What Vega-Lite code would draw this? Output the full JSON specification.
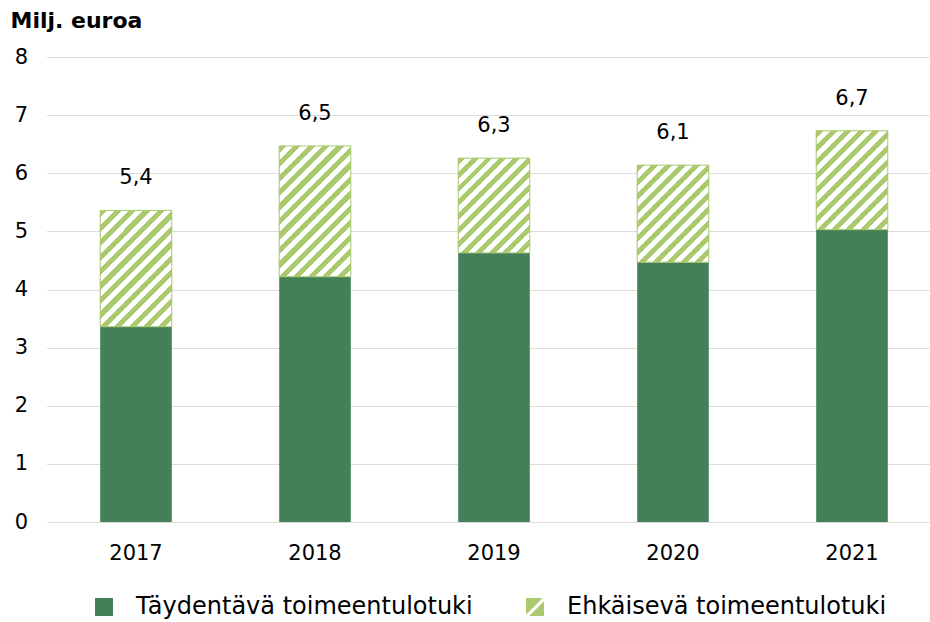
{
  "$schema": "https://vega.github.io/schema/vega-lite/v6.json",
  "width": 895,
  "height": 465,
  "autosize": {"type": "none"},
  "padding": {"left": 46.5, "top": 57, "right": 0, "bottom": 100},
  "background": "white",
  "config": {
    "locale": {"number": {"decimal": ",", "thousands": " ", "grouping": [3], "currency": ["", " €"]}},
    "view": {"stroke": null},
    "font": "DejaVu Sans"
  },
  "data": {
    "values": [
      {"year": "2017", "type": "Täydentävä toimeentulotuki", "value": 3.36},
      {"year": "2017", "type": "Ehkäisevä toimeentulotuki", "value": 2.00},
      {"year": "2018", "type": "Täydentävä toimeentulotuki", "value": 4.22},
      {"year": "2018", "type": "Ehkäisevä toimeentulotuki", "value": 2.25},
      {"year": "2019", "type": "Täydentävä toimeentulotuki", "value": 4.63},
      {"year": "2019", "type": "Ehkäisevä toimeentulotuki", "value": 1.63},
      {"year": "2020", "type": "Täydentävä toimeentulotuki", "value": 4.47},
      {"year": "2020", "type": "Ehkäisevä toimeentulotuki", "value": 1.67},
      {"year": "2021", "type": "Täydentävä toimeentulotuki", "value": 5.03},
      {"year": "2021", "type": "Ehkäisevä toimeentulotuki", "value": 1.70}
    ]
  },
  "transform": [
    {"stack": "value", "groupby": ["year"], "sort": [{"field": "type", "order": "descending"}], "as": ["v0", "v1"]}
  ],
  "encoding": {
    "x": {
      "field": "year", "type": "ordinal", "title": null,
      "scale": {"paddingInner": 0.6, "paddingOuter": 0.3},
      "axis": {"labelFontSize": 21, "labelColor": "#000", "labelPadding": 20, "ticks": false, "domain": false, "labelAngle": 0, "grid": false}
    }
  },
  "layer": [
    {
      "mark": {"type": "bar"},
      "encoding": {
        "y": {
          "field": "v0", "type": "quantitative", "title": "Milj. euroa",
          "scale": {"domain": [0, 8]},
          "axis": {
            "values": [0, 1, 2, 3, 4, 5, 6, 7, 8], "format": "d",
            "titleAngle": 0, "titleAlign": "left", "titleBaseline": "alphabetic",
            "titleX": -36.5, "titleY": -30, "titleFontSize": 22, "titleFontWeight": "bold", "titleColor": "#000",
            "labelFontSize": 21, "labelColor": "#000", "labelPadding": 19,
            "ticks": false, "domain": false, "gridColor": "#dcdcd8", "gridWidth": 1.2
          }
        },
        "y2": {"field": "v1"},
        "color": {
          "field": "type", "type": "nominal",
          "scale": {"domain": ["Täydentävä toimeentulotuki", "Ehkäisevä toimeentulotuki"], "range": ["#43805a", "#abc96f"]},
          "legend": {
            "title": null, "orient": "none", "legendX": 45.5, "legendY": 538,
            "direction": "horizontal", "columns": 2,
            "symbolType": "square", "symbolSize": 324, "symbolStrokeWidth": 0,
            "labelFontSize": 24, "labelColor": "#000", "labelOffset": 20, "labelLimit": 600,
            "columnPadding": 50,
            "encoding": {
              "symbols": {
                "shape": {
                  "condition": {"test": "datum.value === 'Ehkäisevä toimeentulotuki'", "value": "M-1,-1L0.85,-1L-1,0.85Z M1,-0.65L1,1L-0.65,1Z"},
                  "value": "square"
                }
              }
            }
          }
        }
      }
    },
    {
      "transform": [{"filter": "datum.type === 'Ehkäisevä toimeentulotuki' && datum.year === '2017'"}],
      "mark": {"type": "bar", "stroke": "#abc96f", "strokeWidth": 1, "fill": {"gradient": "linear", "x1": 0, "y1": 0, "x2": 0.7216, "y2": 1.1715, "stops": [
        {"offset": 0, "color": "#abc96f"}, {"offset": 0.03846, "color": "#abc96f"}, {"offset": 0.03846, "color": "#ffffff"}, {"offset": 0.07692, "color": "#ffffff"},
        {"offset": 0.07692, "color": "#abc96f"}, {"offset": 0.11538, "color": "#abc96f"}, {"offset": 0.11538, "color": "#ffffff"}, {"offset": 0.15385, "color": "#ffffff"},
        {"offset": 0.15385, "color": "#abc96f"}, {"offset": 0.19231, "color": "#abc96f"}, {"offset": 0.19231, "color": "#ffffff"}, {"offset": 0.23077, "color": "#ffffff"},
        {"offset": 0.23077, "color": "#abc96f"}, {"offset": 0.26923, "color": "#abc96f"}, {"offset": 0.26923, "color": "#ffffff"}, {"offset": 0.30769, "color": "#ffffff"},
        {"offset": 0.30769, "color": "#abc96f"}, {"offset": 0.34615, "color": "#abc96f"}, {"offset": 0.34615, "color": "#ffffff"}, {"offset": 0.38462, "color": "#ffffff"},
        {"offset": 0.38462, "color": "#abc96f"}, {"offset": 0.42308, "color": "#abc96f"}, {"offset": 0.42308, "color": "#ffffff"}, {"offset": 0.46154, "color": "#ffffff"},
        {"offset": 0.46154, "color": "#abc96f"}, {"offset": 0.5, "color": "#abc96f"}, {"offset": 0.5, "color": "#ffffff"}, {"offset": 0.53846, "color": "#ffffff"},
        {"offset": 0.53846, "color": "#abc96f"}, {"offset": 0.57692, "color": "#abc96f"}, {"offset": 0.57692, "color": "#ffffff"}, {"offset": 0.61538, "color": "#ffffff"},
        {"offset": 0.61538, "color": "#abc96f"}, {"offset": 0.65385, "color": "#abc96f"}, {"offset": 0.65385, "color": "#ffffff"}, {"offset": 0.69231, "color": "#ffffff"},
        {"offset": 0.69231, "color": "#abc96f"}, {"offset": 0.73077, "color": "#abc96f"}, {"offset": 0.73077, "color": "#ffffff"}, {"offset": 0.76923, "color": "#ffffff"},
        {"offset": 0.76923, "color": "#abc96f"}, {"offset": 0.80769, "color": "#abc96f"}, {"offset": 0.80769, "color": "#ffffff"}, {"offset": 0.84615, "color": "#ffffff"},
        {"offset": 0.84615, "color": "#abc96f"}, {"offset": 0.88462, "color": "#abc96f"}, {"offset": 0.88462, "color": "#ffffff"}, {"offset": 0.92308, "color": "#ffffff"},
        {"offset": 0.92308, "color": "#abc96f"}, {"offset": 0.96154, "color": "#abc96f"}, {"offset": 0.96154, "color": "#ffffff"}, {"offset": 1, "color": "#ffffff"}
      ]}},
      "encoding": {"y": {"field": "v0", "type": "quantitative", "title": "Milj. euroa"}, "y2": {"field": "v1"}}
    },
    {
      "transform": [{"filter": "datum.type === 'Ehkäisevä toimeentulotuki' && datum.year === '2018'"}],
      "mark": {"type": "bar", "stroke": "#abc96f", "strokeWidth": 1, "fill": {"gradient": "linear", "x1": 0, "y1": 0, "x2": 0.6518, "y2": 1.1906, "stops": [
        {"offset": 0, "color": "#abc96f"}, {"offset": 0.03571, "color": "#abc96f"}, {"offset": 0.03571, "color": "#ffffff"}, {"offset": 0.07143, "color": "#ffffff"},
        {"offset": 0.07143, "color": "#abc96f"}, {"offset": 0.10714, "color": "#abc96f"}, {"offset": 0.10714, "color": "#ffffff"}, {"offset": 0.14286, "color": "#ffffff"},
        {"offset": 0.14286, "color": "#abc96f"}, {"offset": 0.17857, "color": "#abc96f"}, {"offset": 0.17857, "color": "#ffffff"}, {"offset": 0.21429, "color": "#ffffff"},
        {"offset": 0.21429, "color": "#abc96f"}, {"offset": 0.25, "color": "#abc96f"}, {"offset": 0.25, "color": "#ffffff"}, {"offset": 0.28571, "color": "#ffffff"},
        {"offset": 0.28571, "color": "#abc96f"}, {"offset": 0.32143, "color": "#abc96f"}, {"offset": 0.32143, "color": "#ffffff"}, {"offset": 0.35714, "color": "#ffffff"},
        {"offset": 0.35714, "color": "#abc96f"}, {"offset": 0.39286, "color": "#abc96f"}, {"offset": 0.39286, "color": "#ffffff"}, {"offset": 0.42857, "color": "#ffffff"},
        {"offset": 0.42857, "color": "#abc96f"}, {"offset": 0.46429, "color": "#abc96f"}, {"offset": 0.46429, "color": "#ffffff"}, {"offset": 0.5, "color": "#ffffff"},
        {"offset": 0.5, "color": "#abc96f"}, {"offset": 0.53571, "color": "#abc96f"}, {"offset": 0.53571, "color": "#ffffff"}, {"offset": 0.57143, "color": "#ffffff"},
        {"offset": 0.57143, "color": "#abc96f"}, {"offset": 0.60714, "color": "#abc96f"}, {"offset": 0.60714, "color": "#ffffff"}, {"offset": 0.64286, "color": "#ffffff"},
        {"offset": 0.64286, "color": "#abc96f"}, {"offset": 0.67857, "color": "#abc96f"}, {"offset": 0.67857, "color": "#ffffff"}, {"offset": 0.71429, "color": "#ffffff"},
        {"offset": 0.71429, "color": "#abc96f"}, {"offset": 0.75, "color": "#abc96f"}, {"offset": 0.75, "color": "#ffffff"}, {"offset": 0.78571, "color": "#ffffff"},
        {"offset": 0.78571, "color": "#abc96f"}, {"offset": 0.82143, "color": "#abc96f"}, {"offset": 0.82143, "color": "#ffffff"}, {"offset": 0.85714, "color": "#ffffff"},
        {"offset": 0.85714, "color": "#abc96f"}, {"offset": 0.89286, "color": "#abc96f"}, {"offset": 0.89286, "color": "#ffffff"}, {"offset": 0.92857, "color": "#ffffff"},
        {"offset": 0.92857, "color": "#abc96f"}, {"offset": 0.96429, "color": "#abc96f"}, {"offset": 0.96429, "color": "#ffffff"}, {"offset": 1, "color": "#ffffff"}
      ]}},
      "encoding": {"y": {"field": "v0", "type": "quantitative", "title": "Milj. euroa"}, "y2": {"field": "v1"}}
    },
    {
      "transform": [{"filter": "datum.type === 'Ehkäisevä toimeentulotuki' && datum.year === '2019'"}],
      "mark": {"type": "bar", "stroke": "#abc96f", "strokeWidth": 1, "fill": {"gradient": "linear", "x1": 0, "y1": 0, "x2": 0.8445, "y2": 1.1175, "stops": [
        {"offset": 0, "color": "#abc96f"}, {"offset": 0.04167, "color": "#abc96f"}, {"offset": 0.04167, "color": "#ffffff"}, {"offset": 0.08333, "color": "#ffffff"},
        {"offset": 0.08333, "color": "#abc96f"}, {"offset": 0.125, "color": "#abc96f"}, {"offset": 0.125, "color": "#ffffff"}, {"offset": 0.16667, "color": "#ffffff"},
        {"offset": 0.16667, "color": "#abc96f"}, {"offset": 0.20833, "color": "#abc96f"}, {"offset": 0.20833, "color": "#ffffff"}, {"offset": 0.25, "color": "#ffffff"},
        {"offset": 0.25, "color": "#abc96f"}, {"offset": 0.29167, "color": "#abc96f"}, {"offset": 0.29167, "color": "#ffffff"}, {"offset": 0.33333, "color": "#ffffff"},
        {"offset": 0.33333, "color": "#abc96f"}, {"offset": 0.375, "color": "#abc96f"}, {"offset": 0.375, "color": "#ffffff"}, {"offset": 0.41667, "color": "#ffffff"},
        {"offset": 0.41667, "color": "#abc96f"}, {"offset": 0.45833, "color": "#abc96f"}, {"offset": 0.45833, "color": "#ffffff"}, {"offset": 0.5, "color": "#ffffff"},
        {"offset": 0.5, "color": "#abc96f"}, {"offset": 0.54167, "color": "#abc96f"}, {"offset": 0.54167, "color": "#ffffff"}, {"offset": 0.58333, "color": "#ffffff"},
        {"offset": 0.58333, "color": "#abc96f"}, {"offset": 0.625, "color": "#abc96f"}, {"offset": 0.625, "color": "#ffffff"}, {"offset": 0.66667, "color": "#ffffff"},
        {"offset": 0.66667, "color": "#abc96f"}, {"offset": 0.70833, "color": "#abc96f"}, {"offset": 0.70833, "color": "#ffffff"}, {"offset": 0.75, "color": "#ffffff"},
        {"offset": 0.75, "color": "#abc96f"}, {"offset": 0.79167, "color": "#abc96f"}, {"offset": 0.79167, "color": "#ffffff"}, {"offset": 0.83333, "color": "#ffffff"},
        {"offset": 0.83333, "color": "#abc96f"}, {"offset": 0.875, "color": "#abc96f"}, {"offset": 0.875, "color": "#ffffff"}, {"offset": 0.91667, "color": "#ffffff"},
        {"offset": 0.91667, "color": "#abc96f"}, {"offset": 0.95833, "color": "#abc96f"}, {"offset": 0.95833, "color": "#ffffff"}, {"offset": 1, "color": "#ffffff"}
      ]}},
      "encoding": {"y": {"field": "v0", "type": "quantitative", "title": "Milj. euroa"}, "y2": {"field": "v1"}}
    },
    {
      "transform": [{"filter": "datum.type === 'Ehkäisevä toimeentulotuki' && datum.year === '2020'"}],
      "mark": {"type": "bar", "stroke": "#abc96f", "strokeWidth": 1, "fill": {"gradient": "linear", "x1": 0, "y1": 0, "x2": 0.8301, "y2": 1.1253, "stops": [
        {"offset": 0, "color": "#abc96f"}, {"offset": 0.04167, "color": "#abc96f"}, {"offset": 0.04167, "color": "#ffffff"}, {"offset": 0.08333, "color": "#ffffff"},
        {"offset": 0.08333, "color": "#abc96f"}, {"offset": 0.125, "color": "#abc96f"}, {"offset": 0.125, "color": "#ffffff"}, {"offset": 0.16667, "color": "#ffffff"},
        {"offset": 0.16667, "color": "#abc96f"}, {"offset": 0.20833, "color": "#abc96f"}, {"offset": 0.20833, "color": "#ffffff"}, {"offset": 0.25, "color": "#ffffff"},
        {"offset": 0.25, "color": "#abc96f"}, {"offset": 0.29167, "color": "#abc96f"}, {"offset": 0.29167, "color": "#ffffff"}, {"offset": 0.33333, "color": "#ffffff"},
        {"offset": 0.33333, "color": "#abc96f"}, {"offset": 0.375, "color": "#abc96f"}, {"offset": 0.375, "color": "#ffffff"}, {"offset": 0.41667, "color": "#ffffff"},
        {"offset": 0.41667, "color": "#abc96f"}, {"offset": 0.45833, "color": "#abc96f"}, {"offset": 0.45833, "color": "#ffffff"}, {"offset": 0.5, "color": "#ffffff"},
        {"offset": 0.5, "color": "#abc96f"}, {"offset": 0.54167, "color": "#abc96f"}, {"offset": 0.54167, "color": "#ffffff"}, {"offset": 0.58333, "color": "#ffffff"},
        {"offset": 0.58333, "color": "#abc96f"}, {"offset": 0.625, "color": "#abc96f"}, {"offset": 0.625, "color": "#ffffff"}, {"offset": 0.66667, "color": "#ffffff"},
        {"offset": 0.66667, "color": "#abc96f"}, {"offset": 0.70833, "color": "#abc96f"}, {"offset": 0.70833, "color": "#ffffff"}, {"offset": 0.75, "color": "#ffffff"},
        {"offset": 0.75, "color": "#abc96f"}, {"offset": 0.79167, "color": "#abc96f"}, {"offset": 0.79167, "color": "#ffffff"}, {"offset": 0.83333, "color": "#ffffff"},
        {"offset": 0.83333, "color": "#abc96f"}, {"offset": 0.875, "color": "#abc96f"}, {"offset": 0.875, "color": "#ffffff"}, {"offset": 0.91667, "color": "#ffffff"},
        {"offset": 0.91667, "color": "#abc96f"}, {"offset": 0.95833, "color": "#abc96f"}, {"offset": 0.95833, "color": "#ffffff"}, {"offset": 1, "color": "#ffffff"}
      ]}},
      "encoding": {"y": {"field": "v0", "type": "quantitative", "title": "Milj. euroa"}, "y2": {"field": "v1"}}
    },
    {
      "transform": [{"filter": "datum.type === 'Ehkäisevä toimeentulotuki' && datum.year === '2021'"}],
      "mark": {"type": "bar", "stroke": "#abc96f", "strokeWidth": 1, "fill": {"gradient": "linear", "x1": 0, "y1": 0, "x2": 0.8194, "y2": 1.1309, "stops": [
        {"offset": 0, "color": "#abc96f"}, {"offset": 0.04167, "color": "#abc96f"}, {"offset": 0.04167, "color": "#ffffff"}, {"offset": 0.08333, "color": "#ffffff"},
        {"offset": 0.08333, "color": "#abc96f"}, {"offset": 0.125, "color": "#abc96f"}, {"offset": 0.125, "color": "#ffffff"}, {"offset": 0.16667, "color": "#ffffff"},
        {"offset": 0.16667, "color": "#abc96f"}, {"offset": 0.20833, "color": "#abc96f"}, {"offset": 0.20833, "color": "#ffffff"}, {"offset": 0.25, "color": "#ffffff"},
        {"offset": 0.25, "color": "#abc96f"}, {"offset": 0.29167, "color": "#abc96f"}, {"offset": 0.29167, "color": "#ffffff"}, {"offset": 0.33333, "color": "#ffffff"},
        {"offset": 0.33333, "color": "#abc96f"}, {"offset": 0.375, "color": "#abc96f"}, {"offset": 0.375, "color": "#ffffff"}, {"offset": 0.41667, "color": "#ffffff"},
        {"offset": 0.41667, "color": "#abc96f"}, {"offset": 0.45833, "color": "#abc96f"}, {"offset": 0.45833, "color": "#ffffff"}, {"offset": 0.5, "color": "#ffffff"},
        {"offset": 0.5, "color": "#abc96f"}, {"offset": 0.54167, "color": "#abc96f"}, {"offset": 0.54167, "color": "#ffffff"}, {"offset": 0.58333, "color": "#ffffff"},
        {"offset": 0.58333, "color": "#abc96f"}, {"offset": 0.625, "color": "#abc96f"}, {"offset": 0.625, "color": "#ffffff"}, {"offset": 0.66667, "color": "#ffffff"},
        {"offset": 0.66667, "color": "#abc96f"}, {"offset": 0.70833, "color": "#abc96f"}, {"offset": 0.70833, "color": "#ffffff"}, {"offset": 0.75, "color": "#ffffff"},
        {"offset": 0.75, "color": "#abc96f"}, {"offset": 0.79167, "color": "#abc96f"}, {"offset": 0.79167, "color": "#ffffff"}, {"offset": 0.83333, "color": "#ffffff"},
        {"offset": 0.83333, "color": "#abc96f"}, {"offset": 0.875, "color": "#abc96f"}, {"offset": 0.875, "color": "#ffffff"}, {"offset": 0.91667, "color": "#ffffff"},
        {"offset": 0.91667, "color": "#abc96f"}, {"offset": 0.95833, "color": "#abc96f"}, {"offset": 0.95833, "color": "#ffffff"}, {"offset": 1, "color": "#ffffff"}
      ]}},
      "encoding": {"y": {"field": "v0", "type": "quantitative", "title": "Milj. euroa"}, "y2": {"field": "v1"}}
    },
    {
      "transform": [{"filter": "datum.type === 'Ehkäisevä toimeentulotuki'"}],
      "mark": {"type": "text", "baseline": "alphabetic", "dy": -26, "fontSize": 21, "color": "#000"},
      "encoding": {
        "y": {"field": "v1", "type": "quantitative", "title": "Milj. euroa"},
        "text": {"field": "v1", "type": "quantitative", "format": ".1f"}
      }
    }
  ]
}
